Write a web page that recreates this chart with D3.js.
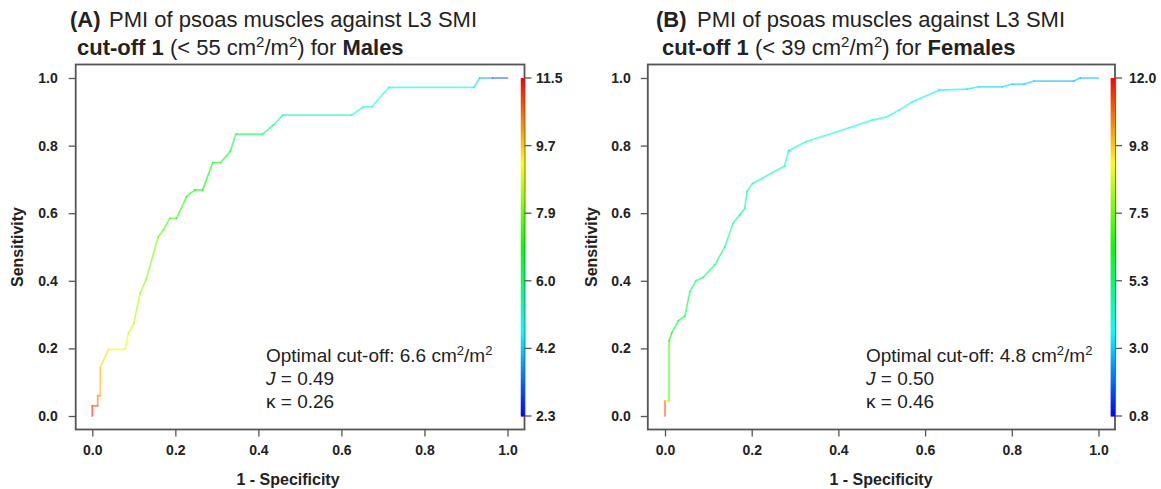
<!DOCTYPE html>
<html>
<head>
<meta charset="utf-8">
<script src="https://cdn.jsdelivr.net/npm/d3@7"></script>
<style>
html,body{margin:0;padding:0;background:#fff;}
svg{display:block;font-family:"Liberation Sans",Arial,sans-serif;}
</style>
</head>
<body>
<svg id="chart" width="1161" height="489"></svg>
<script>
// ---------- DATA ----------
const xTicks = [0, 0.2, 0.4, 0.6, 0.8, 1.0];
const yTicks = [0, 0.2, 0.4, 0.6, 0.8, 1.0];

// Panel A : males (cut-off range 2.3 - 11.5)
const fprA = [0,0,0.013,0.013,0.019,0.019,0.039,0.079,0.087,0.1,0.115,0.129,0.159,0.171,0.187,0.203,0.227,0.247,0.266,0.29,0.309,0.332,0.346,0.41,0.436,0.459,0.625,0.653,0.673,0.714,0.919,0.933,0.964,1.0];
const tprA = [0,0.03,0.03,0.06,0.06,0.143,0.197,0.197,0.245,0.274,0.363,0.402,0.53,0.55,0.585,0.585,0.649,0.669,0.669,0.75,0.75,0.782,0.834,0.834,0.861,0.89,0.89,0.915,0.915,0.972,0.972,1.0,1.0,1.0];
const cutA = [11.4,11.0,10.6,10.3,10.0,9.7,9.4,9.1,8.8,8.6,8.3,8.1,7.8,7.6,7.4,7.3,7.1,7.0,6.9,6.8,6.7,6.5,6.3,6.0,5.7,5.4,5.1,4.9,4.8,4.6,4.4,4.2,3.4,2.5];
const barLabelsA = ["2.3","4.2","6.0","7.9","9.7","11.5"];
const cutRangeA = [2.3, 11.5];

// Panel B : females (cut-off range 0.8 - 12.0)
const fprB = [0,0,0.0092,0.0092,0.0153,0.0307,0.046,0.0575,0.0713,0.088,0.115,0.138,0.157,0.172,0.184,0.189,0.202,0.276,0.285,0.326,0.425,0.479,0.51,0.54,0.571,0.632,0.697,0.724,0.778,0.801,0.828,0.851,0.943,0.958,1.0];
const tprB = [0,0.045,0.045,0.222,0.245,0.282,0.296,0.368,0.4,0.41,0.447,0.501,0.57,0.595,0.614,0.664,0.688,0.74,0.785,0.812,0.853,0.876,0.884,0.905,0.93,0.964,0.967,0.974,0.974,0.982,0.982,0.991,0.991,1.0,1.0];
const cutB = [12.0,10.5,7.4,6.6,6.0,5.8,5.6,5.4,5.3,5.2,5.1,5.0,4.9,4.8,4.7,4.6,4.5,4.3,4.2,4.1,3.9,3.8,3.7,3.6,3.5,3.4,3.35,3.3,3.25,3.2,3.1,3.0,2.9,2.8,2.6];
const barLabelsB = ["0.8","3.0","5.3","7.5","9.8","12.0"];
const cutRangeB = [0.8, 12.0];

const titlesA = {letter:"(A)", line1:"PMI of psoas muscles against L3 SMI", thr:"55", sex:"Males"};
const titlesB = {letter:"(B)", line1:"PMI of psoas muscles against L3 SMI", thr:"39", sex:"Females"};
const annA = {cut:"6.6", J:"0.49", k:"0.26"};
const annB = {cut:"4.8", J:"0.50", k:"0.46"};

// ---------- DRAW ----------
const svg = d3.select("#chart");
const FONT = '"Liberation Sans",Arial,sans-serif';
const INK = "#222";

function panel(cfg){
  const g = svg.append("g");
  const x = d3.scaleLinear().domain([0,1]).range([cfg.x0, cfg.x1]);
  const y = d3.scaleLinear().domain([0,1]).range([416, 78]);
  const cnorm = d3.scaleLinear().domain(cfg.cutRange).range([0,1]);
  const col = v => { const t = Math.max(0, Math.min(1, cnorm(v))); return d3.hsl((1-t)*240, 1, 0.5).toString(); };

  const boxT = 64.5, boxB = 429.5;
  g.append("rect").attr("x", cfg.boxL).attr("y", boxT)
    .attr("width", cfg.boxR - cfg.boxL).attr("height", boxB - boxT)
    .attr("fill","none").attr("stroke","#555").attr("stroke-width",1.8);

  const yAx = g.append("g").attr("transform", `translate(${cfg.boxL},0)`)
    .call(d3.axisLeft(y).tickValues(yTicks).tickFormat(d3.format(".1f")).tickSize(7).tickPadding(cfg.yPad));
  yAx.select(".domain").remove();
  yAx.selectAll("line").attr("stroke","#555").attr("stroke-width",1.3);
  yAx.selectAll("text").attr("font-family",FONT).attr("font-size",14).attr("font-weight","bold").attr("fill",INK);

  const xAx = g.append("g").attr("transform", `translate(0,${boxB})`)
    .call(d3.axisBottom(x).tickValues(xTicks).tickFormat(d3.format(".1f")).tickSize(7).tickPadding(9));
  xAx.select(".domain").remove();
  xAx.selectAll("line").attr("stroke","#555").attr("stroke-width",1.3);
  xAx.selectAll("text").attr("font-family",FONT).attr("font-size",14).attr("font-weight","bold").attr("fill",INK);

  g.append("text").attr("x", cfg.xTitleX).attr("y", 485).attr("text-anchor","middle")
    .attr("font-size",16).attr("font-weight","bold").attr("fill",INK).text("1 - Specificity");
  g.append("text").attr("transform", `translate(${cfg.sensX},247) rotate(-90)`).attr("text-anchor","middle")
    .attr("font-size",16).attr("font-weight","bold").attr("fill",INK).text("Sensitivity");

  const nBar = 200;
  const bar = d3.range(nBar);
  const yb = d3.scaleLinear().domain([0,nBar]).range([y(0), y(1)]);
  g.append("g").selectAll("rect").data(bar).join("rect")
    .attr("x", cfg.barL).attr("width", cfg.boxR - cfg.barL)
    .attr("y", d => yb(d+1)).attr("height", d => yb(d) - yb(d+1) + 0.6)
    .attr("fill", d => d3.hsl((1-(d+0.5)/nBar)*240, 1, 0.5).toString());
  const barTickPos = d3.range(cfg.barLabels.length).map(i => i/(cfg.barLabels.length-1));
  const bt = g.append("g");
  bt.selectAll("line").data(barTickPos).join("line")
    .attr("x1", cfg.boxR).attr("x2", cfg.boxR + 7)
    .attr("y1", d => y(d)).attr("y2", d => y(d))
    .attr("stroke","#555").attr("stroke-width",1.3);
  bt.selectAll("text").data(barTickPos).join("text")
    .attr("x", cfg.barLabX).attr("y", d => y(d)).attr("dy","0.36em")
    .attr("font-size",14).attr("font-weight","bold").attr("fill",INK)
    .text((d,i) => cfg.barLabels[i]);

  const pts = cfg.fpr.map((f,i) => ({f, t: cfg.tpr[i], c: cfg.cut[i]}));
  const segs = d3.pairs(pts);
  g.append("g").selectAll("line").data(segs).join("line")
    .attr("x1", d => x(d[0].f)).attr("y1", d => y(d[0].t))
    .attr("x2", d => x(d[1].f)).attr("y2", d => y(d[1].t))
    .attr("stroke", d => col((d[0].c + d[1].c)/2))
    .attr("stroke-opacity", 0.62)
    .attr("stroke-width", 1.7)
    .attr("stroke-linecap","round");

  const t1 = g.append("text").attr("y", 27).attr("font-size",22).attr("fill",INK);
  t1.append("tspan").attr("x", cfg.titleX).attr("font-weight","bold").text(cfg.titles.letter);
  t1.append("tspan").attr("x", cfg.titleX2).text(cfg.titles.line1);
  const t2 = g.append("text").attr("x", cfg.sub).attr("y", 55).attr("font-size",22).attr("fill",INK);
  t2.append("tspan").attr("font-weight","bold").text("cut-off 1");
  t2.append("tspan").text(" (< " + cfg.titles.thr + " cm");
  t2.append("tspan").attr("font-size",15).attr("dy",-8).text("2");
  t2.append("tspan").attr("dy",8).text("/m");
  t2.append("tspan").attr("font-size",15).attr("dy",-8).text("2");
  t2.append("tspan").attr("dy",8).text(") for ");
  t2.append("tspan").attr("font-weight","bold").text(cfg.titles.sex);

  const a1 = g.append("text").attr("x", cfg.annX).attr("y", 362).attr("font-size",19).attr("fill",INK);
  a1.append("tspan").text("Optimal cut-off: " + cfg.ann.cut + " cm");
  a1.append("tspan").attr("font-size",13).attr("dy",-7).text("2");
  a1.append("tspan").attr("dy",7).text("/m");
  a1.append("tspan").attr("font-size",13).attr("dy",-7).text("2");
  const a2 = g.append("text").attr("x", cfg.annX).attr("y", 385).attr("font-size",19).attr("fill",INK);
  a2.append("tspan").attr("font-style","italic").text("J");
  a2.append("tspan").text(" = " + cfg.ann.J);
  g.append("text").attr("x", cfg.annX).attr("y", 408).attr("font-size",19).attr("fill",INK)
    .text("\u03BA = " + cfg.ann.k);
}

panel({x0:92.3, x1:507.5, boxL:75.7, boxR:524.5, barL:520.8, barLabX:536, yPad:11,
  xTitleX:288, sensX:23, titleX:70, titleX2:109, sub:77, annX:266,
  fpr:fprA, tpr:tprA, cut:cutA, cutRange:cutRangeA, barLabels:barLabelsA, titles:titlesA, ann:annA});

panel({x0:665, x1:1098.5, boxL:647.8, boxR:1115, barL:1110.7, barLabX:1129, yPad:10,
  xTitleX:881, sensX:597, titleX:656, titleX2:697, sub:662, annX:866,
  fpr:fprB, tpr:tprB, cut:cutB, cutRange:cutRangeB, barLabels:barLabelsB, titles:titlesB, ann:annB});
</script>
</body>
</html>
